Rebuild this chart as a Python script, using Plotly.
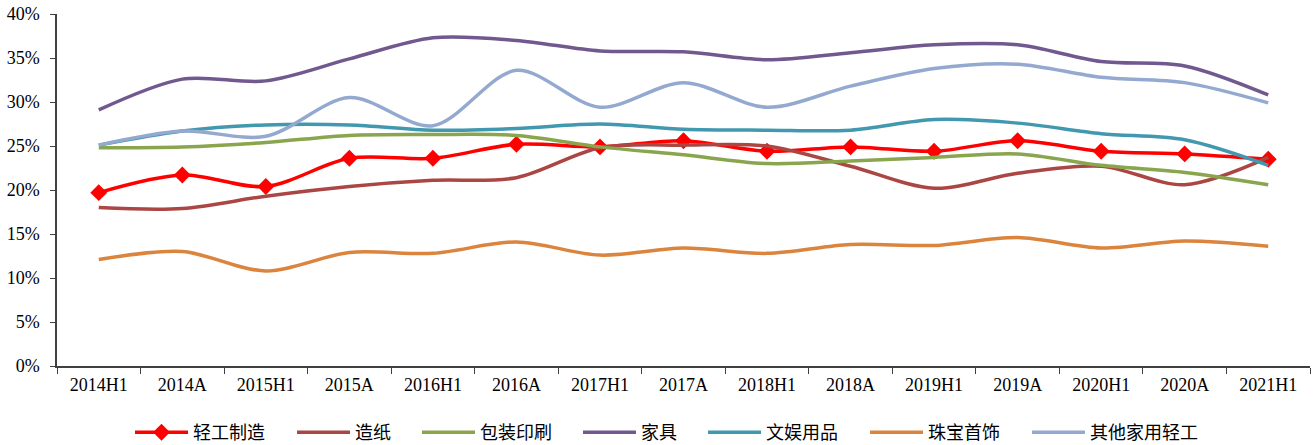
import plotly.graph_objects as go

categories = ["2014H1", "2014A", "2015H1", "2015A", "2016H1", "2016A", "2017H1", "2017A",
              "2018H1", "2018A", "2019H1", "2019A", "2020H1", "2020A", "2021H1"]

qinggong = [19.7, 21.7, 20.4, 23.6, 23.6, 25.2, 24.9, 25.6, 24.4, 24.9, 24.4, 25.6, 24.4, 24.1, 23.5]
zaozhi = [18.0, 17.9, 19.3, 20.4, 21.1, 21.4, 24.8, 25.1, 25.0, 22.7, 20.2, 21.9, 22.7, 20.6, 23.7]
baozhuang = [24.8, 24.9, 25.4, 26.2, 26.3, 26.2, 24.9, 24.0, 23.0, 23.3, 23.7, 24.1, 22.8, 22.0, 20.6]
jiaju = [29.1, 32.6, 32.4, 34.9, 37.3, 37.0, 35.8, 35.7, 34.8, 35.6, 36.5, 36.5, 34.6, 34.1, 30.8]
wenyu = [25.1, 26.7, 27.4, 27.4, 26.8, 27.0, 27.5, 26.9, 26.8, 26.8, 28.0, 27.6, 26.4, 25.7, 22.8]
zhubao = [12.1, 13.0, 10.8, 12.9, 12.8, 14.1, 12.6, 13.4, 12.8, 13.8, 13.7, 14.6, 13.4, 14.2, 13.6]
qita = [25.1, 26.7, 26.1, 30.5, 27.3, 33.6, 29.4, 32.2, 29.4, 31.8, 33.8, 34.3, 32.8, 32.2, 29.9]

series = [
    ("轻工制造", qinggong, "#FF0000", True),
    ("造纸", zaozhi, "#AA4643", False),
    ("包装印刷", baozhuang, "#89A54E", False),
    ("家具", jiaju, "#71588F", False),
    ("文娱用品", wenyu, "#4198AF", False),
    ("珠宝首饰", zhubao, "#DB843D", False),
    ("其他家用轻工", qita, "#93A9CF", False),
]

# left edge of each legend entry (pixels in the 1314 px wide page)
legend_x_px = [130, 292, 417, 578, 703, 865, 1027]

y_ticks = [0, 5, 10, 15, 20, 25, 30, 35, 40]
y_tick_labels = [f"{v}%" for v in y_ticks]

W, H = 1314, 445

fig = go.Figure()
legend_layout = {}
for i, (name, vals, color, markers) in enumerate(series):
    lg = "legend" if i == 0 else f"legend{i + 1}"
    fig.add_trace(go.Scatter(
        x=categories, y=vals, name=name, legend=lg,
        mode="lines+markers" if markers else "lines",
        line=dict(color=color, width=3.5, shape="spline", smoothing=0.9),
        marker=dict(symbol="diamond", size=13, color=color) if markers else None,
    ))
    legend_layout[lg] = dict(
        orientation="h", x=legend_x_px[i] / W, xanchor="left", xref="container",
        y=0.028, yanchor="middle", yref="container",
        font=dict(family="Noto Sans CJK SC, serif", size=18, color="#000000"),
        itemwidth=53, bgcolor="rgba(0,0,0,0)", borderwidth=0,
    )

axis_font = dict(family="Liberation Serif, Times New Roman, serif", size=18, color="#000000")

fig.update_layout(
    width=W, height=H,
    margin=dict(l=57, r=4, t=14, b=79, autoexpand=False),
    plot_bgcolor="white", paper_bgcolor="white",
    showlegend=True,
    xaxis=dict(type="category", tickson="boundaries", ticks="outside", ticklen=6,
               tickcolor="#404040", showline=True, linecolor="#404040", linewidth=1.5,
               showgrid=False, tickfont=axis_font, range=[-0.5, 14.5], automargin=False,
               ticklabelstandoff=2),
    yaxis=dict(range=[0, 40], tickvals=y_ticks, ticktext=y_tick_labels, ticks="outside", ticklen=5,
               tickcolor="#404040", showline=True, linecolor="#404040", linewidth=1.5,
               showgrid=False, zeroline=False, tickfont=axis_font, automargin=False,
               ticklabelstandoff=7),
    **legend_layout,
)

fig.write_html("out.html", config={"displayModeBar": False},
               post_script="document.body.style.margin='0';document.body.style.overflow='hidden';")
